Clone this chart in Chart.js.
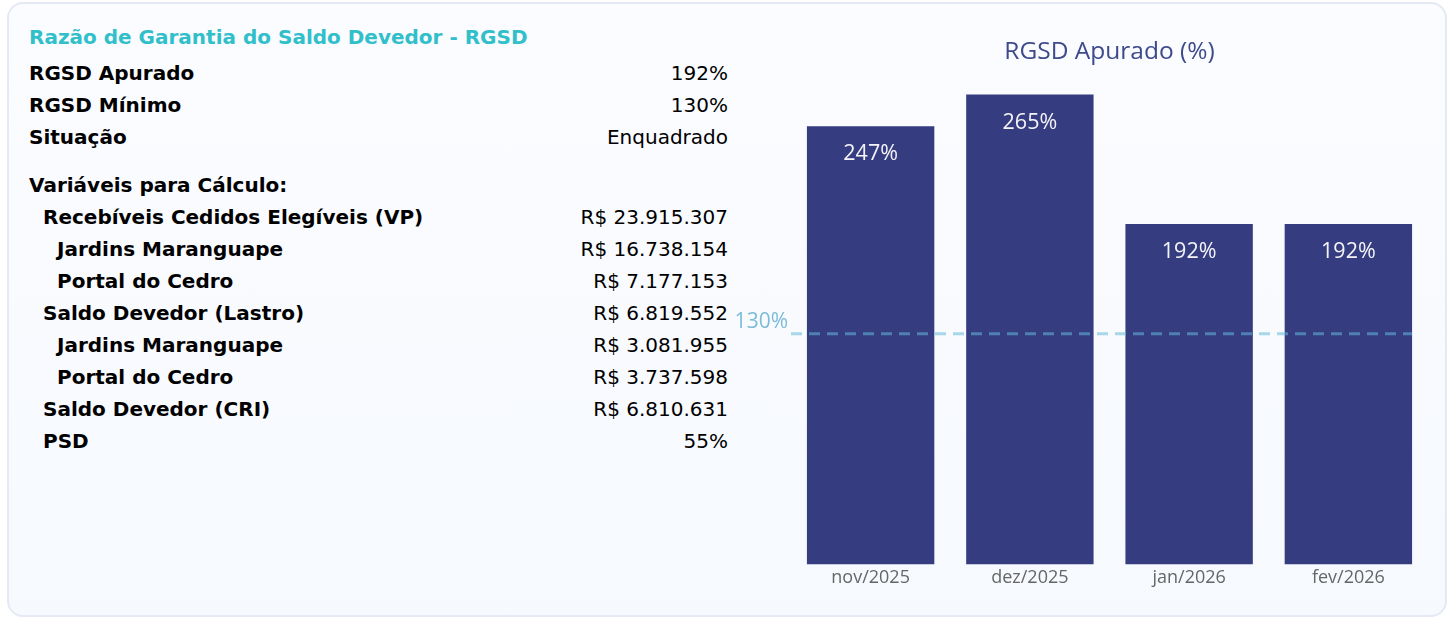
<!DOCTYPE html>
<html>
<head>
<meta charset="utf-8">
<script src="https://cdn.jsdelivr.net/npm/chart.js@4.4.1/dist/chart.umd.min.js"></script>
<style>
  html, body { margin:0; padding:0; background:#ffffff; width:1449px; height:618px; overflow:hidden; }
  #card { position:absolute; left:7px; top:2px; width:1436px; height:611px; border:2px solid #e4e9f3; border-radius:16px;
          background:linear-gradient(180deg,#fbfcff 0%,#f6f9fe 100%); box-sizing:content-box; }
  #left { position:absolute; left:0; top:0; width:740px; height:618px; font-family:"DejaVu Sans", sans-serif; color:#000; }
  .ttl { position:absolute; left:29px; top:25px; font-size:20px; font-weight:bold; color:#31bfca; white-space:nowrap; line-height:24px; }
  .row { position:absolute; height:24px; line-height:24px; font-size:20px; white-space:nowrap; }
  .lbl { position:absolute; font-weight:bold; }
  .val { position:absolute; right:0; }
  #wrap { position:absolute; left:720px; top:20px; width:720px; height:580px; }
</style>
</head>
<body>
<div id="card"></div>
<div id="left"></div>
<div id="wrap"><canvas id="c" width="720" height="580"></canvas></div>
<script>
const panelTitle = "Razão de Garantia do Saldo Devedor - RGSD";
const rowLabels = ["RGSD Apurado","RGSD Mínimo","Situação","Variáveis para Cálculo:","Recebíveis Cedidos Elegíveis (VP)","Jardins Maranguape","Portal do Cedro","Saldo Devedor (Lastro)","Jardins Maranguape","Portal do Cedro","Saldo Devedor (CRI)","PSD"];
const rowValues = ["192%","130%","Enquadrado","","R$ 23.915.307","R$ 16.738.154","R$ 7.177.153","R$ 6.819.552","R$ 3.081.955","R$ 3.737.598","R$ 6.810.631","55%"];
const rowLevels = [0,0,0,0,1,2,2,1,2,2,1,1];

const chartTitle = "RGSD Apurado (%)";
const months = ["nov/2025","dez/2025","jan/2026","fev/2026"];
const rgsdValues = [247, 265, 192, 192];
const rgsdMinimum = 130;

// Build left panel
const left = document.getElementById('left');
const t = document.createElement('div'); t.className='ttl'; t.textContent = panelTitle; left.appendChild(t);
let y = 61;
rowLabels.forEach((lab,i)=>{
  if (i===3) y += 16;
  const r = document.createElement('div'); r.className='row';
  r.style.top = y+'px'; r.style.left='0px'; r.style.width='728px';
  const l = document.createElement('span'); l.className='lbl'; l.style.left=(29+14*rowLevels[i])+'px'; l.textContent=lab;
  const v = document.createElement('span'); v.className='val'; v.textContent=rowValues[i];
  r.appendChild(l); r.appendChild(v); left.appendChild(r);
  y += 32;
});

const chartFont = '"Open Sans", "Noto Sans", sans-serif';

const overlay = {
  id:'overlay',
  afterDatasetsDraw(chart){
    const ctx = chart.ctx, ys = chart.scales.y;
    const meta = chart.getDatasetMeta(0);
    ctx.save();
    ctx.font = '21.5px ' + chartFont;
    ctx.fillStyle = '#f4f4f8';
    ctx.textAlign = 'center'; ctx.textBaseline = 'middle';
    meta.data.forEach((bar,i)=>{
      ctx.fillText(rgsdValues[i] + '%', bar.x, bar.y + 28);
    });
    const yy = ys.getPixelForValue(rgsdMinimum);
    const last = meta.data[meta.data.length-1];
    const xEnd = last.x + last.width/2;
    ctx.strokeStyle = 'rgba(98,185,216,0.55)';
    ctx.lineWidth = 3;
    ctx.setLineDash([11,7]);
    ctx.beginPath(); ctx.moveTo(chart.chartArea.left, yy); ctx.lineTo(xEnd, yy); ctx.stroke();
    ctx.setLineDash([]);
    ctx.fillStyle = '#7bbcd8';
    ctx.textAlign = 'right'; ctx.textBaseline = 'middle';
    ctx.font = '21px ' + chartFont;
    ctx.fillText(rgsdMinimum + '%', chart.chartArea.left - 3, yy - 12);
    ctx.restore();
  }
};

new Chart(document.getElementById('c'), {
  type:'bar',
  data:{ labels: months, datasets:[{ data: rgsdValues, backgroundColor:'#353d80', barPercentage:0.8, categoryPercentage:1.0 }]},
  options:{
    responsive:false, animation:false,
    layout:{ padding:{ left:71, right:12, top:0, bottom:8 } },
    plugins:{
      legend:{display:false}, tooltip:{enabled:false},
      title:{ display:true, text: chartTitle, color:'#3d4a8c', font:{ family: chartFont, size:24.5, weight:'normal' }, padding:{ top:17, bottom:5 } }
    },
    scales:{
      x:{ grid:{display:false, drawTicks:false}, border:{display:false}, ticks:{ color:'#666', font:{ family: chartFont, size:18 }, padding:3 } },
      y:{ display:false, min:0, max:278 }
    }
  },
  plugins:[overlay]
});
</script>
</body>
</html>
